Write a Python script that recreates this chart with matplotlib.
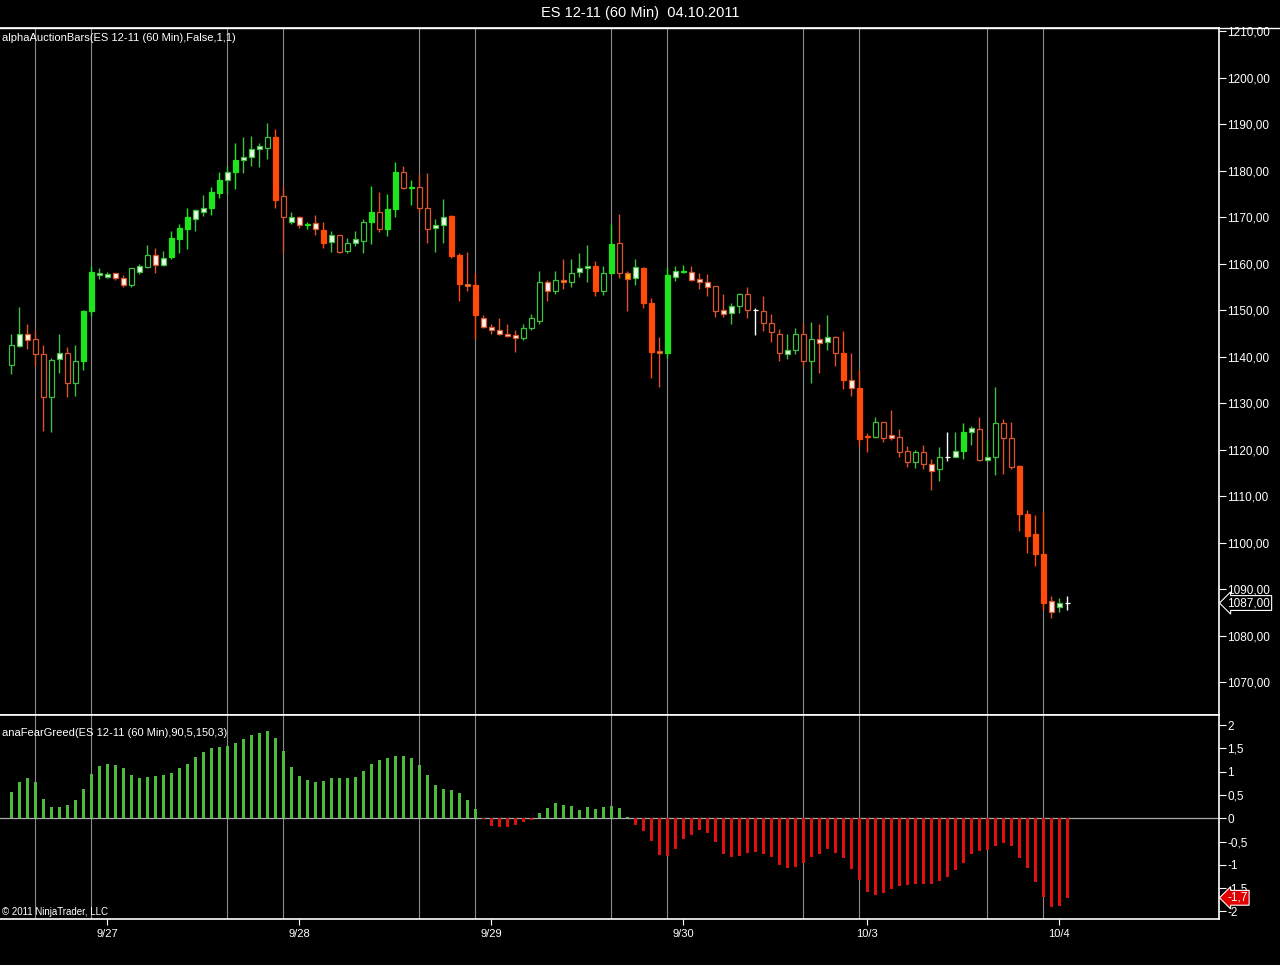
import numpy as np
import matplotlib
matplotlib.use('Agg')
import matplotlib.pyplot as plt
from matplotlib.lines import Line2D
from matplotlib.ticker import FixedLocator, FuncFormatter

plt.rcParams['font.family'] = ['Liberation Sans', 'DejaVu Sans']

# ES 12-11, 60 min bars, 9/27 - 10/4 2011
opens = [1138.25, 1142.25, 1145, 1143.75, 1140.5, 1131.25, 1139.5, 1140.75, 1134.25, 1139,
         1149.75, 1157.5, 1157.25, 1158, 1157, 1155.5, 1158.25, 1159.25, 1162, 1159.75,
         1161.5, 1165.25, 1167.5, 1169.75, 1171.25, 1172, 1175.25, 1178, 1179.75, 1182.25,
         1183, 1184.75, 1185, 1187.25, 1174.5, 1169, 1170, 1168.25, 1168.75, 1167.25,
         1164.75, 1166.25, 1162.75, 1164.5, 1165, 1169, 1171.25, 1167.5, 1171.75, 1179.75,
         1176.25, 1176.5, 1172, 1167.75, 1168.25, 1170.25, 1162, 1155.75, 1155.5, 1148.25,
         1146.5, 1145.75, 1145, 1144.75, 1144, 1146.25, 1147.75, 1156, 1154.25, 1156.5,
         1156, 1158.25, 1159, 1159.5, 1154.25, 1158, 1164.5, 1158, 1157, 1159,
         1151.5, 1141.25, 1140.75, 1157.25, 1158.25, 1158.25, 1156.75, 1156, 1155.25, 1150,
         1149.5, 1151, 1153.5, 1150, 1149.75, 1147.25, 1145, 1140.5, 1141.5, 1145,
         1139, 1143.75, 1143.25, 1144.25, 1140.75, 1135, 1133.25, 1123, 1122.75, 1126,
         1123.25, 1122.75, 1119.75, 1117.25, 1119.5, 1117, 1115.75, 1118.5, 1118.5, 1119.75,
         1123.75, 1124.5, 1117.75, 1118.5, 1125.75, 1122.5, 1116.5, 1106.25, 1101.75, 1097.5,
         1087.5, 1086.25, 1087]
highs = [1145, 1150.75, 1147, 1145.75, 1142.5, 1139.75, 1145, 1142, 1142.5, 1150,
         1159.5, 1159, 1158.25, 1158, 1157.5, 1159, 1160, 1164, 1163.5, 1162.75,
         1167, 1168.5, 1172, 1171.75, 1174.75, 1176.5, 1179.75, 1181, 1186, 1187.25,
         1187.5, 1186, 1190.25, 1189, 1176.75, 1171.25, 1170.25, 1169, 1170.5, 1169,
         1167, 1166.25, 1165.5, 1167, 1169.75, 1176.75, 1175.5, 1175, 1182, 1181,
         1178, 1179.25, 1179.5, 1169.75, 1174, 1170.5, 1162.25, 1162.5, 1158, 1149,
         1147, 1148.25, 1147, 1145.75, 1147, 1149.25, 1158.5, 1156.5, 1158.5, 1161,
         1161, 1162.25, 1164, 1160.5, 1159.5, 1168.5, 1170.75, 1158.5, 1161, 1159.25,
         1152.75, 1144.25, 1159.25, 1159.5, 1159.75, 1159.5, 1158, 1157.75, 1155.25, 1153.5,
         1151.5, 1153.75, 1155, 1150.5, 1153, 1149.25, 1146, 1145, 1146.25, 1147.25,
         1147.5, 1147, 1149, 1144.5, 1145.5, 1140.75, 1137.25, 1123.5, 1127, 1126,
         1128.5, 1124.5, 1120.75, 1120, 1121, 1118, 1120.5, 1123.75, 1123.75, 1125.75,
         1125, 1127, 1122, 1133.5, 1126.5, 1126, 1116.75, 1107, 1106, 1106.5,
         1088.5, 1088, 1088.5]
lows = [1136.25, 1142, 1141.75, 1138, 1124, 1123.75, 1136.5, 1131.25, 1131.5, 1137.25,
        1148.75, 1156.75, 1157, 1156.5, 1155, 1155, 1157.75, 1159, 1158, 1159.5,
        1161, 1162.25, 1163.25, 1167, 1170.25, 1170.5, 1174.25, 1175, 1176, 1179.5,
        1181, 1180.75, 1182.5, 1172, 1162.25, 1168.5, 1167.75, 1167.5, 1166.25, 1163.5,
        1162.5, 1162.25, 1162.25, 1163.75, 1162.25, 1164.25, 1166.75, 1166, 1170, 1176,
        1172.75, 1171, 1164.5, 1162.5, 1164.5, 1161.25, 1152, 1154.25, 1143.75, 1146.25,
        1145, 1144.75, 1144.25, 1141, 1143.5, 1145.75, 1147, 1152, 1153.5, 1154.5,
        1155, 1157.25, 1156, 1153, 1153.25, 1157.75, 1157, 1149.75, 1155.5, 1150.5,
        1135.5, 1133.5, 1139.75, 1156.25, 1158, 1156.25, 1154.5, 1153, 1148.5, 1148.5,
        1147, 1149.5, 1148.25, 1144.75, 1145.5, 1143.25, 1139, 1139.5, 1140.5, 1138,
        1134.25, 1136.5, 1141.5, 1138, 1133, 1131.5, 1120.75, 1119.5, 1122.5, 1121.75,
        1122, 1118.5, 1116.25, 1116, 1115.75, 1111.25, 1113.25, 1117.5, 1118.5, 1118,
        1121, 1117.5, 1117.5, 1114.5, 1114.75, 1115.75, 1102.5, 1097.75, 1095, 1085.5,
        1083.75, 1085, 1085.5]
closes = [1142.5, 1145, 1143.5, 1140.5, 1131.25, 1139.25, 1140.75, 1134.25, 1139, 1149.75,
          1158.25, 1158, 1157.75, 1157, 1155.5, 1159, 1159.5, 1162, 1159.75, 1161.25,
          1165.5, 1167.75, 1170, 1171.5, 1172, 1175.5, 1178, 1179.75, 1182.25, 1183,
          1184.75, 1185.25, 1187.25, 1173.75, 1170, 1170, 1168.25, 1168.5, 1167.5, 1164.5,
          1166.25, 1162.5, 1164.5, 1165.25, 1169, 1171.25, 1167.5, 1171.75, 1179.75, 1176.25,
          1176.5, 1172, 1167.5, 1168.25, 1170, 1161.75, 1155.75, 1155.25, 1149, 1146.5,
          1145.75, 1145, 1144.5, 1144, 1146.25, 1148.25, 1156, 1154.25, 1156.5, 1156,
          1158, 1159, 1159.5, 1154.25, 1158, 1164.25, 1158, 1156.75, 1159.25, 1151.5,
          1141, 1140.75, 1157.5, 1158.5, 1158.5, 1156.5, 1156, 1155, 1149.75, 1149.25,
          1151, 1153.5, 1150, 1150, 1147.25, 1145.25, 1140.75, 1141.5, 1145, 1139,
          1143.75, 1143, 1144.25, 1140.75, 1135, 1133.25, 1122.25, 1122.75, 1126, 1122.5,
          1122.5, 1119.5, 1117.25, 1119.5, 1117, 1115.5, 1118.5, 1118.5, 1119.75, 1123.75,
          1124.75, 1117.75, 1118.5, 1125.75, 1122.5, 1116.25, 1106.25, 1101.5, 1097.5, 1087,
          1085, 1087, 1087]

# auction state of each bar: g/r = up/down side, h = hollow, f = full, w = light, o = balance, xx = neutral
auction_state = """gh gw rw rh rh gh gw rh gh gf
gf gw gw rw rw gh gw gh rw gw
gf gf gf gw gw gf gf gw gf gw
gw gw gh rf rh gw rw gf rw rf
gw rh gh gw gh gf rh gf gf rh
gf rh rh gw gw rf rf ro rf rw
rw rw rw rw gh gh gh rw gh ro
gh gw gw rf gh gf rh ro gw rf
rf ro gf gw gf rw rw rw rh rw
gw gh rh xx rh rh rh gw gh rh
gh rw gw rh rf rw rf rf gh rh
rw rh rh gh rh rw gh xx gw gf
gw rh gw gh rh rh rf rf rf rf
rw gw xx""".split()

fear_greed = [0.57, 0.77, 0.87, 0.77, 0.42, 0.24, 0.24, 0.29, 0.39, 0.63,
              0.95, 1.12, 1.17, 1.15, 1.08, 0.93, 0.87, 0.89, 0.91, 0.93,
              0.97, 1.08, 1.17, 1.32, 1.43, 1.51, 1.53, 1.56, 1.62, 1.71,
              1.79, 1.83, 1.88, 1.73, 1.45, 1.10, 0.91, 0.82, 0.78, 0.80,
              0.87, 0.87, 0.87, 0.89, 1.02, 1.17, 1.25, 1.30, 1.34, 1.34,
              1.30, 1.15, 0.93, 0.72, 0.63, 0.61, 0.54, 0.40, 0.20, -0.01,
              -0.16, -0.19, -0.19, -0.14, -0.08, -0.03, 0.12, 0.215, 0.33, 0.29,
              0.27, 0.18, 0.24, 0.20, 0.24, 0.27, 0.22, 0.03, -0.14, -0.27,
              -0.49, -0.79, -0.81, -0.66, -0.44, -0.36, -0.25, -0.32, -0.51, -0.77,
              -0.83, -0.81, -0.75, -0.72, -0.77, -0.83, -1.00, -1.07, -1.04, -0.96,
              -0.83, -0.77, -0.66, -0.75, -0.85, -1.09, -1.33, -1.58, -1.65, -1.61,
              -1.52, -1.46, -1.43, -1.41, -1.41, -1.41, -1.35, -1.26, -1.11, -0.96,
              -0.77, -0.70, -0.68, -0.59, -0.53, -0.59, -0.85, -1.07, -1.37, -1.69,
              -1.91, -1.89, -1.71]

date_pos = [12, 36, 60, 84, 107, 131]
date_labels = ['9/27', '9/28', '9/29', '9/30', '10/3', '10/4']
session_bars = [3, 10, 27, 34, 51, 58, 75, 82, 99, 106, 122, 129]
price_ticks = list(range(1070, 1211, 10))
fg_ticks = [-2, -1.5, -1, -0.5, 0, 0.5, 1, 1.5, 2]
last_price = closes[-1]
last_fg = fear_greed[-1]

# colours
G_FULL, G_LINE, G_LIGHT = '#1ee61e', '#3fbf3f', '#e6ffe6'
R_FULL, R_LINE, R_LIGHT = '#ff4a0a', '#d8552e', '#fff0e8'
ORANGE = '#ffb000'

W, H = 1280, 965
fig = plt.figure(figsize=(W / 100, H / 100), dpi=100, facecolor='black')
right = 1219 / W
ax = fig.add_axes([0, 1 - 715 / H, right, (715 - 27.5) / H])
ax2 = fig.add_axes([0, 1 - 919 / H, right, (919 - 715) / H], sharex=ax)

x = np.arange(len(opens))
o, hi, lo, c = map(np.array, (opens, highs, lows, closes))
body_lo = np.minimum(o, c)
body_hi = np.maximum(o, c)

fills, edges, wicks = [], [], []
for k in auction_state:
    if k == 'xx':
        fills.append('white'); edges.append('white'); wicks.append('white')
        continue
    full, line, light = (G_FULL, G_LINE, G_LIGHT) if k[0] == 'g' else (R_FULL, R_LINE, R_LIGHT)
    if k[1] == 'h':
        fills.append('black'); edges.append(line)
    elif k[1] == 'f':
        fills.append(full); edges.append(full)
    elif k[1] == 'w':
        fills.append(light); edges.append(line)
    else:
        fills.append(ORANGE); edges.append(line)
    wicks.append(line if k[1] != 'f' else full)

for a in (ax, ax2):
    a.set_facecolor('black')
    for p in session_bars:
        a.axvline(p, color='#8a8a8a', lw=0.8, zorder=1)

ax.vlines(x, lo, hi, colors=wicks, lw=1.0, zorder=2)
ax.bar(x, body_hi - body_lo, bottom=body_lo, width=0.58, color=fills,
       edgecolor=edges, linewidth=0.9, zorder=3)

fg = np.array(fear_greed)
ax2.axhline(0, color='#a8a8a8', lw=0.9, zorder=2)
ax2.bar(x, fg, width=0.4, color=np.where(fg >= 0, '#4cbb3c', '#e01010'), zorder=3)

ax.set_xlim(-1.41, 150.96)
ax.set_ylim(1062.9, 1210.86)
ax2.set_ylim(-2.166, 2.22)

for a in (ax, ax2):
    for s in a.spines.values():
        s.set_color('white')
        s.set_linewidth(1.2)
    a.spines['left'].set_visible(False)
    a.yaxis.tick_right()
    a.tick_params(axis='y', colors='white', direction='out', length=5, width=0.8,
                  labelsize=8.5, pad=1)

ax.yaxis.set_major_locator(FixedLocator(price_ticks))
ax.yaxis.set_major_formatter(FuncFormatter(lambda v, _: f'{v:.2f}'.replace('.', ',')))
ax2.yaxis.set_major_locator(FixedLocator(fg_ticks))
ax2.yaxis.set_major_formatter(FuncFormatter(lambda v, _: f'{v:g}'.replace('.', ',')))

ax.tick_params(axis='x', bottom=False, labelbottom=False)
ax2.set_xticks(date_pos)
ax2.set_xticklabels(date_labels)
ax2.tick_params(axis='x', colors='white', direction='out', length=4, width=0.8,
                labelsize=8, pad=3)

# top border across the whole window
fig.add_artist(Line2D([0, 1], [1 - 27.5 / H] * 2, color='white', lw=1.0))

fig.text(0.5, 1 - 13 / H, 'ES 12-11 (60 Min)  04.10.2011', ha='center', va='center',
         color='white', fontsize=10.5)
ax.text(0.002, 0.985, 'alphaAuctionBars(ES 12-11 (60 Min),False,1,1)', transform=ax.transAxes,
        ha='left', va='center', color='white', fontsize=8)
ax2.text(0.002, 0.912, 'anaFearGreed(ES 12-11 (60 Min),90,5,150,3)', transform=ax2.transAxes,
         ha='left', va='center', color='white', fontsize=8)
ax2.text(0.002, 0.034, '\u00a9 2011 NinjaTrader, LLC', transform=ax2.transAxes,
         ha='left', va='center', color='white', fontsize=7)

ax.annotate(f'{last_price:.2f}'.replace('.', ','), xy=(1.0, last_price),
            xycoords=ax.get_yaxis_transform(), xytext=(6, 0), textcoords='offset points',
            ha='left', va='center', color='white', fontsize=8.5, annotation_clip=False,
            bbox=dict(boxstyle='larrow,pad=0.12', fc='black', ec='white', lw=0.8))
ax2.annotate(f'{last_fg:.1f}'.replace('.', ','), xy=(1.0, last_fg),
             xycoords=ax2.get_yaxis_transform(), xytext=(6, 0), textcoords='offset points',
             ha='left', va='center', color='white', fontsize=8.5, annotation_clip=False,
             bbox=dict(boxstyle='larrow,pad=0.12', fc='#e00000', ec='white', lw=0.8))

fig.savefig('out.png', dpi=100, facecolor='black')
